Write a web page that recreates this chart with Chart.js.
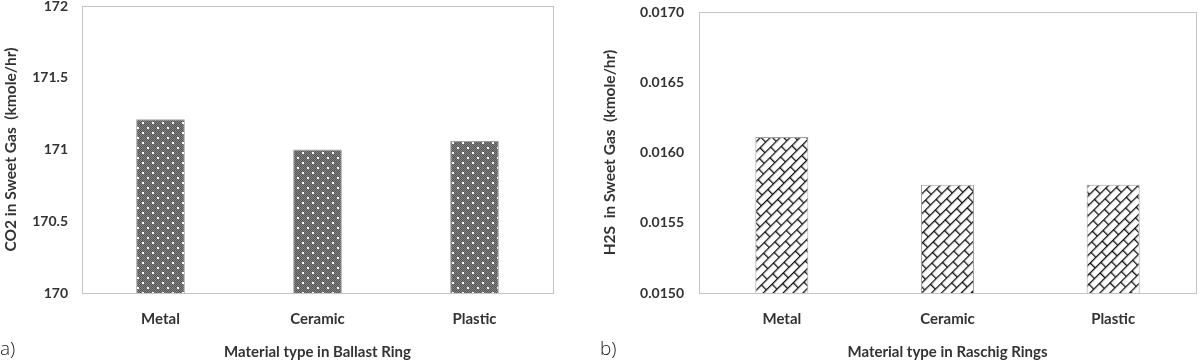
<!DOCTYPE html>
<html>
<head>
<meta charset="utf-8">
<script src="https://cdn.jsdelivr.net/npm/chart.js@4/dist/chart.umd.min.js"></script>
<style>
  html, body { margin: 0; padding: 0; background: #fff; }
  #wrap { position: relative; width: 1200px; height: 362px; overflow: hidden; }
  .panel { position: absolute; top: 0; width: 600px; height: 362px; }
  .tag { position: absolute; top: 335px; font: 300 19px "Open Sans", sans-serif; color: #222; }
</style>
</head>
<body>
<div id="wrap">
  <div class="panel" style="left:0"><canvas id="co2" width="600" height="362"></canvas></div>
  <div class="panel" style="left:600px"><canvas id="h2s" width="600" height="362"></canvas></div>
  <div class="tag" style="left:0">a)</div>
  <div class="tag" style="left:600px">b)</div>
</div>
<script>
const categories = ['Metal', 'Ceramic', 'Plastic'];
const co2Values = [171.21, 171.0, 171.06];
const h2sValues = [0.01611, 0.01577, 0.01577];
const co2Ticks = [170, 170.5, 171, 171.5, 172];
const h2sTicks = [0.015, 0.0155, 0.016, 0.0165, 0.017];

const txt = '#333';
const font = (size) => ({ family: 'Lato, "Open Sans", sans-serif', size: size, weight: 'bold' });

// grey with white dots, like the excel fill on the left
function dotPattern() {
  const c = document.createElement('canvas');
  c.width = 10; c.height = 10;
  const g = c.getContext('2d');
  for (let y = 0; y < 10; y++) {
    for (let x = 0; x < 10; x++) {
      g.fillStyle = (x + y) % 2 ? '#828282' : '#555';
      g.fillRect(x, y, 1, 1);
    }
  }
  g.fillStyle = '#fff';
  g.fillRect(2, 2, 2, 2);
  g.fillRect(7, 7, 2, 2);
  return g.createPattern(c, 'repeat');
}

// diagonal brick fill on the right
function brickPattern() {
  const w = 16, h = 7;
  const c = document.createElement('canvas');
  c.width = w; c.height = 2 * h;
  const g = c.getContext('2d');
  g.fillStyle = '#fff';
  g.fillRect(0, 0, w, 2 * h);
  g.fillStyle = '#111';
  g.fillRect(0, 0, w, 1.3);
  g.fillRect(0, h, w, 1.3);
  g.fillRect(0, 0, 1.3, h);
  g.fillRect(w / 2, h, 1.3, h);
  const p = g.createPattern(c, 'repeat');
  p.setTransform(new DOMMatrix().rotate(-45));
  return p;
}

const boxPlugin = {
  id: 'box',
  beforeDatasetsDraw(chart) {
    const { ctx, chartArea: a } = chart;
    ctx.save();
    ctx.strokeStyle = '#c4c4c4';
    ctx.lineWidth = 1;
    ctx.strokeRect(Math.round(a.left) + 0.5, Math.round(a.top) + 0.5,
      Math.round(a.right - a.left), Math.round(a.bottom - a.top));
    ctx.restore();
  }
};

function makeChart(id, cfg) {
  return new Chart(document.getElementById(id), {
    type: 'bar',
    data: {
      labels: categories,
      datasets: [{
        data: cfg.values,
        backgroundColor: cfg.fill,
        borderColor: '#a0a0a0',
        borderWidth: 1,
        categoryPercentage: 1,
        barPercentage: cfg.barPct
      }]
    },
    options: {
      responsive: false,
      animation: false,
      devicePixelRatio: 1,
      layout: { padding: { left: 0, top: cfg.top, right: cfg.right, bottom: 0 } },
      plugins: { legend: { display: false }, tooltip: { enabled: false } },
      scales: {
        x: {
          grid: { display: false, drawTicks: false },
          border: { display: false },
          ticks: { color: txt, font: font(15), padding: 17 },
          title: { display: true, text: cfg.xTitle, color: txt, font: font(15), padding: { top: 0, bottom: 1 } },
          afterFit: (s) => { s.height = 69; }
        },
        y: {
          min: cfg.ticks[0],
          max: cfg.ticks[cfg.ticks.length - 1],
          grid: { display: false, drawTicks: false },
          border: { display: false },
          afterBuildTicks: (s) => { s.ticks = cfg.ticks.map(v => ({ value: v })); },
          ticks: { color: txt, font: font(14), padding: cfg.tickPad, callback: cfg.fmt },
          title: { display: true, text: cfg.yTitle, color: txt, font: font(15.5), padding: { top: cfg.titlePad, bottom: 0 } },
          afterFit: (s) => { s.width = cfg.yWidth; s.paddingTop = 0; s.paddingBottom = 0; }
        }
      }
    },
    plugins: [boxPlugin]
  });
}

makeChart('co2', {
  values: co2Values,
  ticks: co2Ticks,
  fill: dotPattern(),
  barPct: 0.31,
  top: 6, right: 47, yWidth: 82, tickPad: 14, titlePad: 2,
  fmt: (v) => String(v),
  xTitle: 'Material type in Ballast Ring',
  yTitle: 'CO2 in Sweet Gas  (kmole/hr)'
});

makeChart('h2s', {
  values: h2sValues,
  ticks: h2sTicks,
  fill: brickPattern(),
  barPct: 0.32,
  top: 12, right: 4, yWidth: 99, tickPad: 15, titlePad: 1,
  fmt: (v) => v.toFixed(4),
  xTitle: 'Material type in Raschig Rings',
  yTitle: 'H2S  in Sweet Gas  (kmole/hr)'
});
</script>
</body>
</html>
